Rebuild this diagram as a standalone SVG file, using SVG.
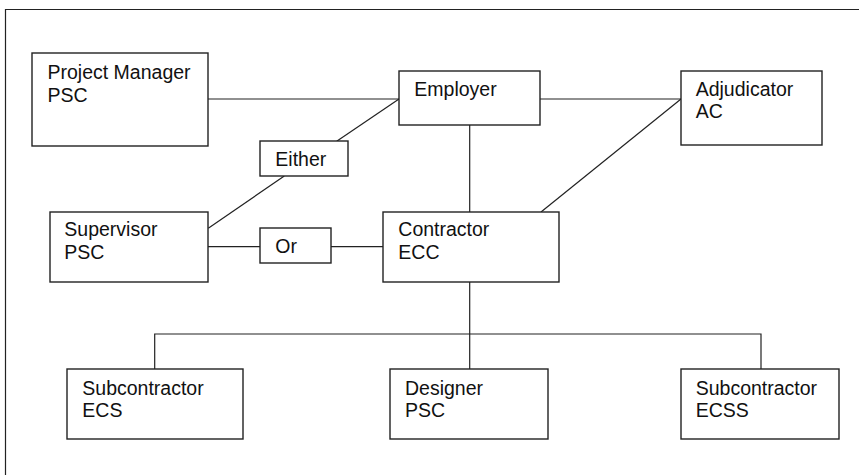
<svg xmlns="http://www.w3.org/2000/svg" width="859" height="475" viewBox="0 0 859 475">
<style>
.box{fill:#fff;stroke:#222;stroke-width:1.4}
.t{font-family:"Liberation Sans",Arial,Helvetica,sans-serif;font-size:19.5px;fill:#111}
.c{stroke:#222;stroke-width:1.2;fill:none}
</style>
<rect width="859" height="475" fill="#fff"/>
<path class="c" d="M5.5,475 V9.5 H859"/>
<g id="connectors">
<line class="c" x1="208" y1="99" x2="399" y2="99"/>
<line class="c" x1="540" y1="99" x2="681" y2="99"/>
<line class="c" x1="399" y1="99" x2="336.7" y2="141.3"/>
<line class="c" x1="284.3" y1="176" x2="208.3" y2="228.3"/>
<line class="c" x1="208" y1="246.7" x2="260" y2="246.7"/>
<line class="c" x1="331" y1="246.7" x2="383" y2="246.7"/>
<line class="c" x1="469.7" y1="125" x2="469.7" y2="212"/>
<line class="c" x1="681" y1="99" x2="541" y2="212"/>
<line class="c" x1="469.7" y1="282" x2="469.7" y2="369"/>
<polyline class="c" points="154.7,369 154.7,334 761,334 761,369"/>
</g>
<g id="project-manager">
<rect class="box" x="32" y="53" width="176" height="93"/>
<text class="t" x="47.5" y="79">Project Manager</text>
<text class="t" x="47.5" y="101.7">PSC</text>
</g>
<g id="employer">
<rect class="box" x="399" y="71" width="141" height="54"/>
<text class="t" x="414.3" y="95.7">Employer</text>
</g>
<g id="adjudicator">
<rect class="box" x="681" y="71" width="141" height="74"/>
<text class="t" x="695.7" y="95.7">Adjudicator</text>
<text class="t" x="695.7" y="118.3">AC</text>
</g>
<g id="either">
<rect class="box" x="260" y="141" width="88" height="35"/>
<text class="t" x="275.3" y="165.7">Either</text>
</g>
<g id="supervisor">
<rect class="box" x="50" y="212" width="158" height="70"/>
<text class="t" x="64.3" y="236">Supervisor</text>
<text class="t" x="64.3" y="259.3">PSC</text>
</g>
<g id="or">
<rect class="box" x="260" y="228" width="71" height="35"/>
<text class="t" x="275.3" y="253.3">Or</text>
</g>
<g id="contractor">
<rect class="box" x="383" y="212" width="176" height="70"/>
<text class="t" x="398.3" y="236">Contractor</text>
<text class="t" x="398.3" y="259.3">ECC</text>
</g>
<g id="subcontractor-ecs">
<rect class="box" x="67" y="369" width="176" height="70"/>
<text class="t" x="82.3" y="394.7">Subcontractor</text>
<text class="t" x="82.3" y="416.7">ECS</text>
</g>
<g id="designer">
<rect class="box" x="390" y="369" width="158" height="70"/>
<text class="t" x="405" y="394.7">Designer</text>
<text class="t" x="405" y="416.7">PSC</text>
</g>
<g id="subcontractor-ecss">
<rect class="box" x="681" y="369" width="158" height="70"/>
<text class="t" x="695.7" y="394.7">Subcontractor</text>
<text class="t" x="695.7" y="416.7">ECSS</text>
</g>
</svg>
